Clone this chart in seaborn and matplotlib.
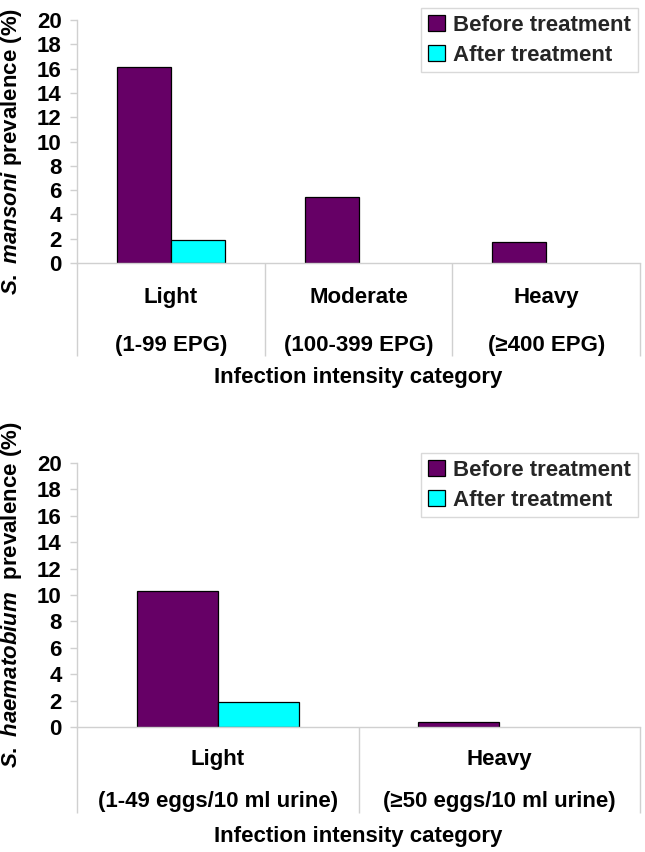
import matplotlib
matplotlib.use('Agg')
import matplotlib.pyplot as plt
from matplotlib.patches import Patch
import seaborn as sns
import pandas as pd
import numpy as np

sns.set_theme(style='white')
plt.rcParams['font.family'] = ['Liberation Sans', 'DejaVu Sans']
plt.rcParams['font.weight'] = 'bold'
plt.rcParams['mathtext.fontset'] = 'custom'
plt.rcParams['mathtext.it'] = 'Liberation Sans:italic:bold'
plt.rcParams['mathtext.rm'] = 'Liberation Sans:bold'
plt.rcParams['mathtext.bf'] = 'Liberation Sans:bold'

# ---- data ----
periods = ['Before treatment', 'After treatment']
period_colors = ['#660066', '#00FFFF']

man_categories = ['Light', 'Moderate', 'Heavy']
man_ranges = ['(1-99 EPG)', '(100-399 EPG)', '(\u2265400 EPG)']
man_before = [16.1, 5.4, 1.7]
man_after = [1.9, 0.0, 0.0]

hae_categories = ['Light', 'Heavy']
hae_ranges = ['(1-49 eggs/10 ml urine)', '(\u226550 eggs/10 ml urine)']
hae_before = [10.3, 0.4]
hae_after = [1.9, 0.0]

y_ticks = [0, 2, 4, 6, 8, 10, 12, 14, 16, 18, 20]
x_title = 'Infection intensity category'
man_ylabel = r'$\mathit{S.\ mansoni}$ prevalence (%)'
hae_ylabel = r'$\mathit{S.\ haematobium}$  prevalence (%)'

GRAY = '#d0d0d0'
FS = 16

W, H = 645, 852
fig = plt.figure(figsize=(W / 100, H / 100), dpi=100)


def draw(rect, cats, ranges, before, after, ylabel, ylabel_y, div_len,
         y_line1, y_line2, y_xlabel, legend_anchor):
    ax = fig.add_axes(rect)
    n = len(cats)
    df = pd.DataFrame({
        'category': cats + cats,
        'period': [periods[0]] * n + [periods[1]] * n,
        'value': before + after,
    })
    sns.barplot(data=df, x='category', y='value', hue='period', order=cats,
                hue_order=periods, palette=period_colors, saturation=1,
                edgecolor='black', linewidth=0.9, width=0.575, gap=0,
                errorbar=None, legend=False, ax=ax)
    for p in ax.patches:
        if p.get_height() == 0:
            p.set_linewidth(0)

    ax.set_xlim(-0.5, n - 0.5)
    ax.set_ylim(0, 20)
    ax.set_yticks(y_ticks)
    ax.set_yticklabels([str(t) for t in y_ticks], fontsize=FS, fontweight='bold')
    ax.set_xticks(np.arange(n + 1) - 0.5)
    ax.set_xticklabels([])
    ax.tick_params(axis='x', which='major', length=div_len, color=GRAY,
                   width=1, direction='out', bottom=True)
    ax.tick_params(axis='y', which='major', length=5, color=GRAY, width=1,
                   direction='out', left=True, pad=6, labelcolor='black')
    for s in ['top', 'right']:
        ax.spines[s].set_visible(False)
    for s in ['left', 'bottom']:
        ax.spines[s].set_color(GRAY)
        ax.spines[s].set_linewidth(1)

    tr = ax.get_xaxis_transform()
    for i, (c, r) in enumerate(zip(cats, ranges)):
        ax.text(i, y_line1, c, transform=tr, ha='center', va='center',
                fontsize=FS, fontweight='bold', color='black')
        ax.text(i, y_line2, r, transform=tr, ha='center', va='center',
                fontsize=FS, fontweight='bold', color='black')

    ax.set_xlabel(x_title, fontsize=FS, fontweight='bold', color='black')
    ax.xaxis.set_label_coords(0.5, y_xlabel)
    ax.set_ylabel(ylabel, fontsize=FS, fontweight='bold', color='black')
    ax.yaxis.set_label_coords(-0.095, ylabel_y)

    handles = [Patch(facecolor=c, edgecolor='black', linewidth=0.9)
               for c in period_colors]
    leg = ax.legend(handles, periods, loc='upper right',
                    bbox_to_anchor=legend_anchor, bbox_transform=fig.transFigure,
                    frameon=True, fancybox=False, fontsize=FS,
                    handlelength=0.75, handleheight=0.75, handletextpad=0.4,
                    borderpad=0.3, labelspacing=0.4, borderaxespad=0)
    leg.get_frame().set_edgecolor(GRAY)
    leg.get_frame().set_linewidth(1)
    for t in leg.get_texts():
        t.set_fontweight('bold')
    return ax


# top chart: axes px 77..640 x, 20..263 y
draw([77 / W, 1 - 263 / H, 563 / W, 243 / H], man_categories, man_ranges,
     man_before, man_after, man_ylabel, 0.46, 67,
     (263 - 297) / 243, (263 - 345) / 243, (263 - 367) / 243,
     (638 / W, 1 - 8 / H))

# bottom chart: axes px 77..640 x, 463..727 y
draw([77 / W, 1 - 727 / H, 563 / W, 264 / H], hae_categories, hae_ranges,
     hae_before, hae_after, hae_ylabel, 0.5, 62,
     (727 - 759) / 264, (727 - 802) / 264, (727 - 826) / 264,
     (638 / W, 1 - 453 / H))

fig.savefig('out.png', dpi=100, facecolor='white')
